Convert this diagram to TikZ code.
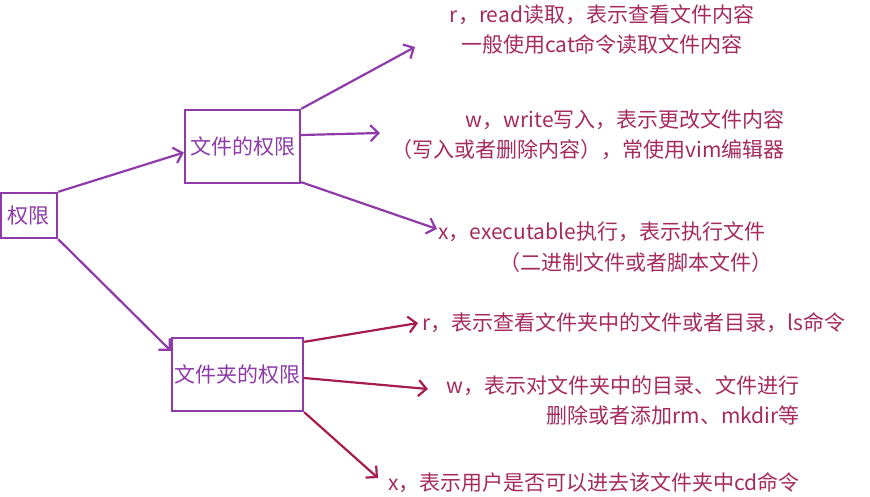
\documentclass[tikz,border=0pt]{standalone}
\usepackage{fontspec}
\setmainfont{Noto Sans CJK SC}
\usetikzlibrary{arrows.meta}
\definecolor{pp}{HTML}{8E3AA8}
\definecolor{rd}{HTML}{A51C4E}
\definecolor{tx}{HTML}{A52A5E}
\begin{document}
\begin{tikzpicture}[x=1pt,y=-1pt,
  box/.style={draw=pp, line width=2.3pt, text=pp, font=\fontsize{21}{24}\selectfont, inner sep=0pt},
  parrow/.style={draw=pp, line width=2.2pt, -{Straight Barb[length=8pt,width=16pt,line width=2.2pt]}},
  rarrow/.style={draw=rd, line width=2.2pt, -{Straight Barb[length=8pt,width=16pt,line width=2.2pt]}},
  lbl/.style={text=tx, font=\fontsize{21}{30}\selectfont, inner sep=0pt}]
\useasboundingbox (0,0) rectangle (870,496);
\node[box, minimum width=56pt, minimum height=45pt] (b1) at (29,215.5) {权限};
\node[box, minimum width=115pt, minimum height=73pt] (b2) at (242.5,146.5) {文件的权限};
\node[box, minimum width=131pt, minimum height=73pt] (b3) at (237.5,374.5) {文件夹的权限};

\node[lbl, align=center] (t1) at (602,29) {r，read读取，表示查看文件内容\\一般使用cat命令读取文件内容};
\node[lbl, align=right, anchor=east] (t2) at (785,135) {w，write写入，表示更改文件内容\\（写入或者删除内容），常使用vim编辑器};
\node[lbl, anchor=west] (t3) at (438,232) {x，executable执行，表示执行文件};
\node[lbl] (t3b) at (636,263) {（二进制文件或者脚本文件）};
\node[lbl, anchor=west] (t4) at (422,323) {r，表示查看文件夹中的文件或者目录，ls命令};
\node[lbl, align=right, anchor=east] (t5) at (800,400) {w，表示对文件夹中的目录、文件进行\\删除或者添加rm、mkdir等};
\node[lbl, anchor=west] (t6) at (388,483) {x，表示用户是否可以进去该文件夹中cd命令};

\coordinate (e1) at (415,47);
\coordinate (e2) at (380,133);
\coordinate (e3) at (437,229);
\coordinate (e4) at (418,323);
\coordinate (e5) at (428,389);
\coordinate (e6) at (378,478);

\draw[parrow] (b1.north east) -- ([yshift=-6pt]b2.west);
\draw[parrow] (b1.south east) -- ([yshift=-14pt]b3.north west);
\draw[parrow] (b2.north east) -- (e1);
\draw[parrow] ([yshift=11.5pt]b2.east) -- (e2);
\draw[parrow] ([yshift=2pt]b2.south east) -- (e3);
\draw[rarrow] ([yshift=-5pt]b3.north east) -- (e4);
\draw[rarrow] ([yshift=-3.5pt]b3.east) -- (e5);
\draw[rarrow] (b3.south east) -- (e6);
\end{tikzpicture}
\end{document}
